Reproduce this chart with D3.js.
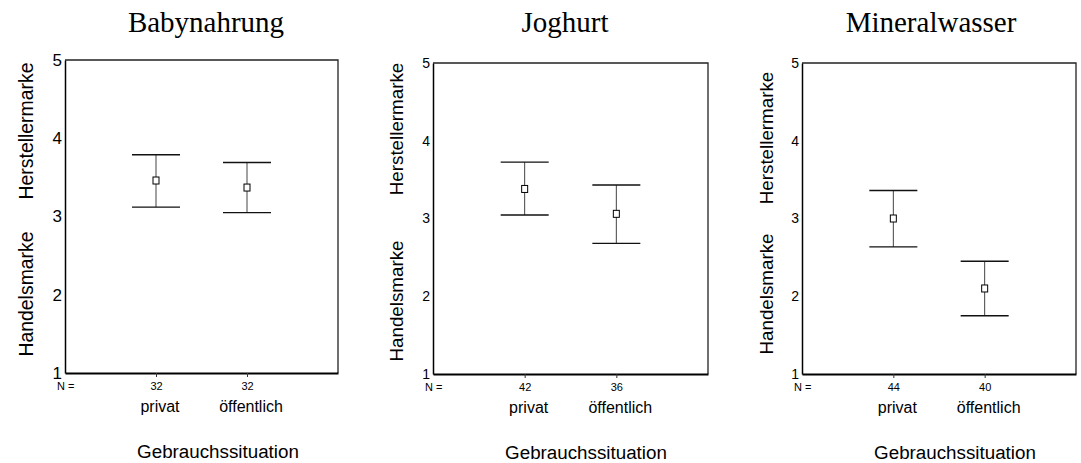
<!DOCTYPE html>
<html>
<head>
<meta charset="utf-8">
<script src="https://cdn.jsdelivr.net/npm/d3@7"></script>
<style>
  html, body { margin: 0; padding: 0; background: #fff; }
  svg { display: block; }
</style>
</head>
<body>
<svg id="chart" width="1081" height="463"></svg>
<script>
// Mean ratings with 95% confidence intervals, per product group and usage situation
const products = ["Babynahrung", "Joghurt", "Mineralwasser"];
const situations = ["privat", "öffentlich"];
const means = [[3.46, 3.37], [3.38, 3.06], [3.00, 2.10]];
const upperCI = [[3.79, 3.69], [3.725, 3.43], [3.36, 2.45]];
const lowerCI = [[3.12, 3.05], [3.045, 2.68], [2.635, 1.75]];
const counts = [[32, 32], [42, 36], [44, 40]];
const yTicks = [1, 2, 3, 4, 5];
const xTitle = "Gebrauchssituation";
const yTitleHigh = "Herstellermarke";
const yTitleLow = "Handelsmarke";

// Panel geometry
const layout = [
  { left: 65,  right: 338,  top: 60, bottom: 373, titleX: 206, tickFont: 17, yLabX: 33,  hiY: 131, loY: 294, yLabFont: 19.4 },
  { left: 433, right: 708,  top: 63, bottom: 374, titleX: 565, tickFont: 14, yLabX: 403, hiY: 129, loY: 301, yLabFont: 18.8 },
  { left: 802, right: 1076, top: 63, bottom: 374, titleX: 931, tickFont: 14, yLabX: 773, hiY: 138, loY: 294, yLabFont: 18.8 }
];

const svg = d3.select("#chart");
const sans = "'Liberation Sans', Arial, sans-serif";
const serif = "'Liberation Serif', 'Times New Roman', serif";

products.forEach((name, p) => {
  const L = layout[p];
  const g = svg.append("g");

  const x = d3.scaleLinear().domain([0, 3]).range([L.left, L.right]);
  const y = d3.scaleLinear().domain([1, 5]).range([L.bottom, L.top]);

  // Title
  g.append("text")
    .attr("x", L.titleX).attr("y", 32)
    .attr("text-anchor", "middle")
    .style("font-family", serif).style("font-size", "29px")
    .text(name);

  // Frame (top and right)
  g.append("path")
    .attr("d", `M${L.left},${L.top}H${L.right}V${L.bottom}`)
    .attr("fill", "none").attr("stroke", "#222").attr("stroke-width", 1.3);

  // Y axis
  const yAxis = d3.axisLeft(y).tickValues(yTicks).tickFormat(d3.format("d"))
    .tickSizeInner(0).tickSizeOuter(0).tickPadding(3);
  const ya = g.append("g").attr("transform", `translate(${L.left},0)`).call(yAxis);
  ya.select(".domain").attr("stroke", "#000").attr("stroke-width", 1.5);
  ya.selectAll("text").style("font-family", sans).style("font-size", L.tickFont + "px").attr("fill", "#000");

  // X axis: ticks at the two situations, labelled with group sizes
  const xAxis = d3.axisBottom(x).tickValues([1, 2])
    .tickFormat((d, i) => counts[p][i])
    .tickSizeInner(4).tickSizeOuter(0).tickPadding(5);
  const xa = g.append("g").attr("transform", `translate(0,${L.bottom})`).call(xAxis);
  xa.select(".domain").attr("stroke", "#000").attr("stroke-width", 1.8);
  xa.selectAll(".tick line").attr("stroke", "#333");
  xa.selectAll("text").style("font-family", sans).style("font-size", "11px").attr("fill", "#000");

  g.append("text")
    .attr("x", L.left - 8).attr("y", L.bottom + 17)
    .style("font-family", sans).style("font-size", "11px")
    .text("N =");

  // Situation labels
  g.selectAll(".sit").data(situations).enter().append("text")
    .attr("x", (d, i) => x(i + 1) + 4).attr("y", L.bottom + 39)
    .attr("text-anchor", "middle")
    .style("font-family", sans).style("font-size", "16px")
    .text(d => d);

  // X title
  g.append("text")
    .attr("x", L.left + 153).attr("y", L.bottom + 85)
    .attr("text-anchor", "middle")
    .style("font-family", sans).style("font-size", "18.8px")
    .text(xTitle);

  // Y titles (rotated)
  [[yTitleHigh, L.hiY], [yTitleLow, L.loY]].forEach(([t, cy]) => {
    g.append("text")
      .attr("transform", `translate(${L.yLabX},${cy}) rotate(-90)`)
      .attr("text-anchor", "middle")
      .style("font-family", sans).style("font-size", L.yLabFont + "px")
      .text(t);
  });

  // Error bars
  const rows = situations.map((s, i) => ({
    cx: x(i + 1), m: means[p][i], lo: lowerCI[p][i], hi: upperCI[p][i]
  }));
  const bars = g.selectAll(".bar").data(rows).enter().append("g");
  bars.append("line")
    .attr("x1", d => d.cx).attr("x2", d => d.cx)
    .attr("y1", d => y(d.hi)).attr("y2", d => y(d.lo))
    .attr("stroke", "#444").attr("stroke-width", 1);
  bars.append("line")
    .attr("x1", d => d.cx - 24).attr("x2", d => d.cx + 24)
    .attr("y1", d => y(d.hi)).attr("y2", d => y(d.hi))
    .attr("stroke", "#111").attr("stroke-width", 1.4);
  bars.append("line")
    .attr("x1", d => d.cx - 24).attr("x2", d => d.cx + 24)
    .attr("y1", d => y(d.lo)).attr("y2", d => y(d.lo))
    .attr("stroke", "#111").attr("stroke-width", 1.4);
  bars.append("rect")
    .attr("x", d => d.cx - 3).attr("y", d => y(d.m) - 3.5)
    .attr("width", 6).attr("height", 7)
    .attr("fill", "#fff").attr("stroke", "#000").attr("stroke-width", 1);
});
</script>
</body>
</html>
